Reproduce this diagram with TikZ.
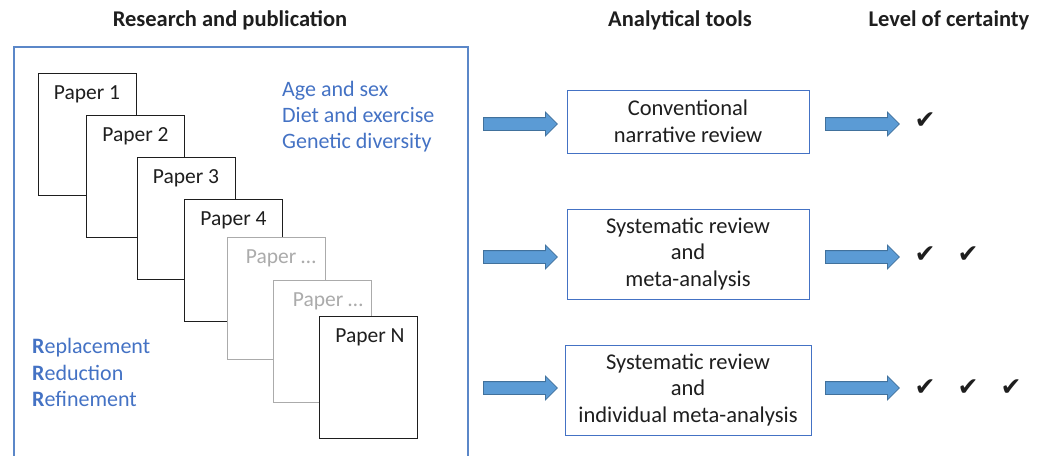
\documentclass[tikz,border=0pt]{standalone}
\usepackage{fontspec}
\setmainfont{Carlito}
\newfontfamily\marksfont{DejaVu Sans}
\usetikzlibrary{shapes.arrows}
\definecolor{frameblue}{HTML}{5B87C8}
\definecolor{textblue}{HTML}{4472C4}
\definecolor{arrowfill}{HTML}{5B9BD5}
\definecolor{arrowline}{HTML}{41719C}
\definecolor{fadegray}{HTML}{ABABAB}
\definecolor{ink}{HTML}{1E1E1E}
\begin{document}
\begin{tikzpicture}[x=1pt,y=-1pt,
  heading/.style={font=\fontsize{22.5}{26}\selectfont\bfseries, text=ink, anchor=base, inner sep=0},
  paper/.style={draw=ink, fill=white, line width=1pt, minimum width=98pt, minimum height=122pt, inner sep=0},
  ghost/.style={paper, draw=fadegray},
  papertext/.style={font=\fontsize{21.5}{24}\selectfont, text=ink, anchor=base, inner sep=0},
  ghosttext/.style={papertext, text=fadegray},
  factor/.style={font=\fontsize{22}{24}\selectfont, text=textblue, anchor=base west, inner sep=0},
  tool/.style={draw=textblue, line width=1pt, fill=white, align=center, inner sep=0,
    font=\fontsize{22.5}{26.5}\selectfont, text=ink},
  flow/.style={single arrow, draw=arrowline, fill=arrowfill, line width=0.8pt,
    minimum height=74pt, single arrow head extend=5.5pt, inner sep=6pt, anchor=west},
  tick/.style={font=\marksfont\fontsize{25}{26}\selectfont, text=ink, inner sep=0}
]
\useasboundingbox (0,0) rectangle (1043,455);

% column headings
\node[heading] (h1) at (230,26) {Research and publication};
\node[heading] (h2) at (680,26) {Analytical tools};
\node[heading] (h3) at (949,26) {Level of certainty};

% research frame (runs past the bottom edge)
\draw[frameblue, line width=1.2pt] (14,460) -- (14,47) -- (468,47) -- (468,460);

% stack of papers
\node[paper] (p1) at (87,134) {};
\node[papertext] (t1) at (87,99) {Paper 1};
\node[paper] (p2) at (135.5,176) {};
\node[papertext] (t2) at (135.5,141) {Paper 2};
\node[paper] (p3) at (186,218) {};
\node[papertext] (t3) at (186,183) {Paper 3};
\node[paper] (p4) at (233,260) {};
\node[papertext] (t4) at (233.5,225) {Paper 4};
\node[ghost] (p5) at (276.5,298) {};
\node[ghosttext] (t5) at (281,263) {Paper …};
\node[ghost] (p6) at (322.5,341) {};
\node[ghosttext] (t6) at (328,306) {Paper …};
\node[paper] (pN) at (368.5,377) {};
\node[papertext] (tN) at (370,342) {Paper N};

% study factors
\node[factor] (f1) at (282,96) {Age and sex};
\node[factor] (f2) at (282,122) {Diet and exercise};
\node[factor] (f3) at (282,148) {Genetic diversity};

% the three Rs
\node[factor] (r1) at (32,353) {\textbf{R}eplacement};
\node[factor] (r2) at (32,380) {\textbf{R}eduction};
\node[factor] (r3) at (32,406) {\textbf{R}efinement};

% analytical tools
\node[tool, minimum width=242pt, minimum height=63pt] (a1) at (688,121.5)
  {Conventional\\narrative review};
\node[tool, minimum width=242pt, minimum height=90pt] (a2) at (688,254)
  {Systematic review\\and\\meta-analysis};
\node[tool, minimum width=246pt, minimum height=90pt] (a3) at (688,390)
  {Systematic review\\and\\individual meta-analysis};

% block arrows into and out of the tools
\node[flow] (in1) at (483,124) {};
\node[flow] (in2) at (483,257) {};
\node[flow] (in3) at (483,388) {};
\node[flow] (out1) at (825,124) {};
\node[flow] (out2) at (825,257) {};
\node[flow] (out3) at (825,388) {};

% certainty marks
\node[tick] (c11) at (925,121) {✔};
\node[tick] (c21) at (925,255) {✔};
\node[tick] (c22) at (968,255) {✔};
\node[tick] (c31) at (925,388) {✔};
\node[tick] (c32) at (968,388) {✔};
\node[tick] (c33) at (1011,388) {✔};
\end{tikzpicture}
\end{document}
